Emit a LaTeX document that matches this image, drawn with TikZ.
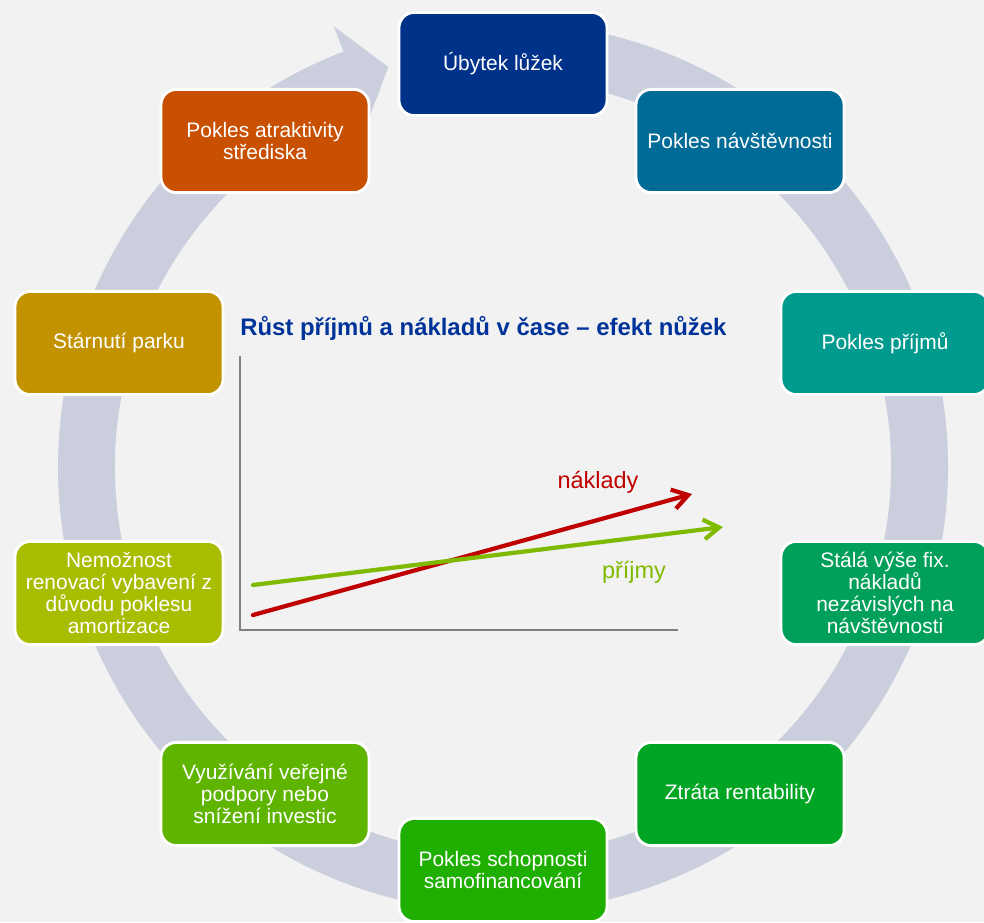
\documentclass[tikz,border=0pt]{standalone}
\usepackage{fontspec}
\setmainfont{Liberation Sans}
\usetikzlibrary{arrows.meta, calc}

\definecolor{bggray}{RGB}{242,242,242}
\definecolor{ringgray}{RGB}{203,206,220}
\definecolor{axisgray}{RGB}{128,128,128}
\definecolor{titleblue}{RGB}{0,51,153}
\definecolor{costred}{RGB}{192,0,0}
\definecolor{incgreen}{RGB}{127,186,0}
\definecolor{cUby}{RGB}{0,50,137}
\definecolor{cNavst}{RGB}{0,107,150}
\definecolor{cPrijem}{RGB}{0,155,142}
\definecolor{cFix}{RGB}{0,160,90}
\definecolor{cRent}{RGB}{0,165,35}
\definecolor{cSamo}{RGB}{31,175,0}
\definecolor{cPodp}{RGB}{95,180,0}
\definecolor{cRenov}{RGB}{168,188,0}
\definecolor{cStari}{RGB}{195,146,0}
\definecolor{cAtrakt}{RGB}{200,80,0}

\begin{document}
\begin{tikzpicture}[
      x=0.025cm, y=0.025cm,
      stage/.style={rectangle, draw=white, line width=2pt, rounded corners=11pt, minimum width=5.2cm, minimum height=2.58cm, align=center, text=white, font=\fontsize{14.9}{15.8}\selectfont, inner sep=2pt},
      ring/.style={fill=ringgray},
      axis/.style={draw=axisgray, line width=1.8pt},
      trend/.style={-{Straight Barb[length=11pt, width=14pt]}, line width=3pt, line cap=round},
      lbl/.style={font=\fontsize{16.7}{20}\selectfont, inner sep=0pt}
    ]

    \useasboundingbox (0,0) rectangle (984,-922);
    \clip (0,0) rectangle (984,-922);
    \fill[bggray] (0,0) rectangle (984,-922);

    \coordinate (c) at (503,-467);
    \fill[ring] ($(c)+(88:445)$) arc[start angle=88, end angle=-249, radius=445]
      -- ($(c)+(-249:472)$) -- ($(c)+(-254:416)$) -- ($(c)+(-247.3:362)$)
      -- ($(c)+(-248:388)$) arc[start angle=-248, end angle=88, radius=388] -- cycle;

    \node[stage, fill=cUby] (uby) at (503,-64) {Úbytek lůžek};
    \node[stage, fill=cNavst] (navst) at (740,-141) {Pokles návštěvnosti};
    \node[stage, fill=cPrijem] (prijem) at (885,-343) {Pokles příjmů};
    \node[stage, fill=cFix] (fixnakl) at (885,-593) {Stálá výše fix.\\nákladů\\nezávislých na\\návštěvnosti};
    \node[stage, fill=cRent] (rentab) at (740,-794) {Ztráta rentability};
    \node[stage, fill=cSamo] (samofin) at (503,-870) {Pokles schopnosti\\samofinancování};
    \node[stage, fill=cPodp] (podpora) at (265,-794) {Využívání veřejné\\podpory nebo\\snížení investic};
    \node[stage, fill=cRenov] (renov) at (119,-593) {Nemožnost\\renovací vybavení z\\důvodu poklesu\\amortizace};
    \node[stage, fill=cStari] (stari) at (119,-343) {Stárnutí parku};
    \node[stage, fill=cAtrakt] (atrakt) at (265,-141) {Pokles atraktivity\\střediska};

    \node[anchor=base west, inner sep=0pt, text=titleblue, font=\bfseries\fontsize{17}{20}\selectfont] (title) at (240,-335) {Růst příjmů a nákladů v čase – efekt nůžek};

    \coordinate (ytop) at (240,-356);
    \coordinate (orig) at (240,-630);
    \coordinate (xend) at (678,-630);
    \draw[axis] (ytop) -- (orig) -- (xend);

    \coordinate (cost0) at (253,-615);
    \coordinate (cost1) at (692,-494);
    \coordinate (inc0) at (253,-585);
    \coordinate (inc1) at (723,-527);
    \draw[trend, draw=costred] (cost0) -- (cost1);
    \draw[trend, draw=incgreen] (inc0) -- (inc1);

    \node[lbl, text=costred, anchor=base] (naklady) at (598,-488) {náklady};
    \node[lbl, text=incgreen, anchor=base] (prijmy) at (634,-578) {příjmy};
  \end{tikzpicture}
\end{document}
